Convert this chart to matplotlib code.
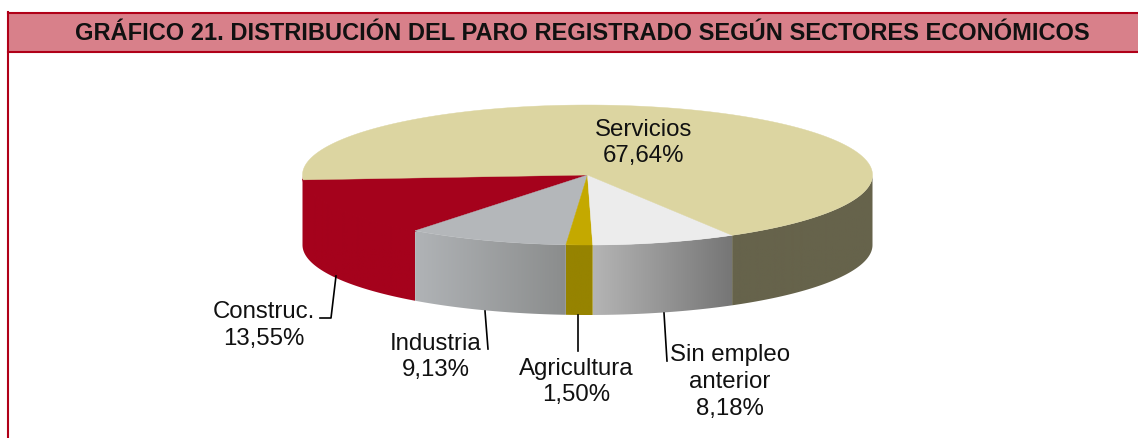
"""Gráfico 21: paro registrado por sectores (tarta 3D dibujada a mano)."""
import numpy as np
import matplotlib
matplotlib.use("Agg")
import matplotlib.pyplot as plt
from matplotlib.colors import to_rgb
from matplotlib.patches import Polygon, Rectangle

# --- Datos ---
sectores = ["Construc.", "Industria", "Agricultura", "Sin empleo\nanterior", "Servicios"]
valores = [13.55, 9.13, 1.50, 8.18, 67.64]
titulo = "GRÁFICO 21. DISTRIBUCIÓN DEL PARO REGISTRADO SEGÚN SECTORES ECONÓMICOS"

col_top = ["#a5021c", "#b4b7ba", "#c4a900", "#ececec", "#dcd5a1"]
# lado: color a la derecha / a la izquierda del degradado
col_side = [("#a5021c", "#a5021c"), ("#8b8d8d", "#b0b3b6"), ("#968300", "#968300"),
            ("#767676", "#b4b4b4"), ("#66634b", "#66634b")]

# --- Geometria (pixeles) ---
W, H = 1138, 439
CX, CY = 587.5, 176.0
RX, RY = 285.0, 70.0
DEPTH = 70.0
START = 176.0   # angulo donde arranca Construc., medido hacia abajo desde la derecha

plt.rcParams["font.family"] = ["Liberation Sans", "DejaVu Sans"]
fig = plt.figure(figsize=(W / 100, H / 100), dpi=100)
ax = fig.add_axes([0, 0, 1, 1])
ax.set_xlim(0, W)
ax.set_ylim(H, 0)
ax.axis("off")


def rim(t, dy=0.0):
    t = np.radians(t)
    return np.column_stack([CX + RX * np.cos(t), CY + dy + RY * np.sin(t)])


# --- Marco y cabecera (sin borde derecho, la banda llega al canto) ---
ROJO = "#b00018"
ax.add_patch(Rectangle((8, 13), W - 8, 39.5, fc="#d8808a", ec="none", zorder=1))
ax.plot([8, 8], [13, H], color=ROJO, lw=1.5, zorder=2)
ax.plot([8, W], [13.5, 13.5], color=ROJO, lw=1.5, zorder=2)
ax.plot([8, W], [52.5, 52.5], color=ROJO, lw=1.5, zorder=2)
ax.text(582, 33, titulo, ha="center", va="center", fontsize=17.0, fontweight="bold",
        color="#111111", zorder=3)

# --- Tarta ---
angs = START - np.cumsum([0] + valores) * 3.6
for i in range(len(valores)):
    a0, a1 = angs[i], angs[i + 1]
    ts = np.linspace(a0, a1, 200)

    # lado visible: solo la parte frontal (0..180 grados)
    lo, hi = max(min(a0, a1), 0.0), min(max(a0, a1), 180.0)
    if i == 4:
        lo, hi = 0.0, a0
    if i == 0:
        hi = 180.0
    if hi > lo:
        ts2 = np.linspace(lo, hi, 120)
        pts = np.vstack([rim(ts2), rim(ts2[::-1], DEPTH)])
        clip = Polygon(pts, fc="none", ec="none", transform=ax.transData)
        ax.add_patch(clip)
        c0 = np.array(to_rgb(col_side[i][0]))
        c1 = np.array(to_rgb(col_side[i][1]))
        x0, x1 = pts[:, 0].min(), pts[:, 0].max()
        grad = np.linspace(0, 1, 64)[None, :, None]
        img = c1[None, None, :] * (1 - grad) + c0[None, None, :] * grad
        im = ax.imshow(img, extent=[x0, x1, 330, 170], aspect="auto", zorder=5)
        im.set_clip_path(clip)

    # cara superior; en Construc. el borde tapa la costura con el lado
    top = np.vstack([[[CX, CY]], rim(ts)])
    ax.add_patch(Polygon(top, fc=col_top[i], ec=col_top[i], lw=1.2 if i == 0 else 0.3,
                         zorder=6))

# imshow cambia los limites
ax.set_xlim(0, W)
ax.set_ylim(H, 0)

# --- Lineas guia ---
guias = [([336, 331, 320], [277, 319, 319]), ([485, 488], [312, 350]),
         ([578, 578], [316, 352]), ([664, 667], [314, 362])]
for xs, ys in guias:
    ax.plot(xs, ys, color="black", lw=1.2, zorder=7)

# --- Etiquetas ---
pos = [(264, 325.5), (436, 357), (576, 382), (730, 382), (643.5, 143)]
for s, v, (x, y) in zip(sectores, valores, pos):
    pct = f"{v:.2f}".replace(".", ",")
    ax.text(x, y, f"{s}\n{pct}%", ha="center", va="center", fontsize=17.3, color="#111111",
            linespacing=1.28, zorder=8)

fig.savefig("out.png", dpi=100, facecolor="white")
